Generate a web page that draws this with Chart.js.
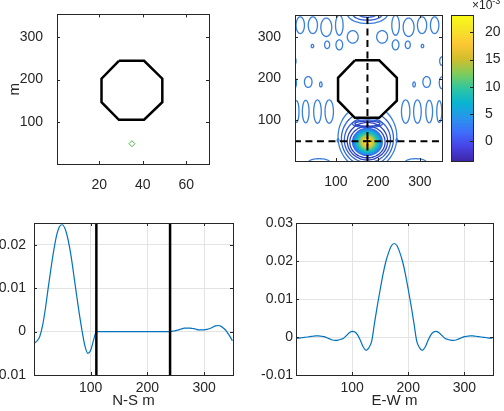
<!DOCTYPE html>
<html>
<head>
<meta charset="utf-8">
<script src="https://cdn.jsdelivr.net/npm/chart.js@4.4.1/dist/chart.umd.min.js"></script>
<style>
  html, body { margin: 0; padding: 0; background: #fff; overflow: hidden; }
  body { width: 504px; height: 411px; position: relative; font-family: "Liberation Sans", Arial, sans-serif; }
  canvas { position: absolute; }
  #expo { position: absolute; left: 472px; top: -4px; font-size: 12px; color: #262626; white-space: nowrap; }
  #expo sup { font-size: 9px; }
</style>
</head>
<body>
<canvas id="tl" width="252" height="200" style="left:0;top:0"></canvas>
<canvas id="tr" width="198" height="200" style="left:252px;top:0"></canvas>
<canvas id="cb" width="58" height="200" style="left:446px;top:0"></canvas>
<canvas id="bl" width="252" height="211" style="left:0;top:200px"></canvas>
<canvas id="br" width="252" height="211" style="left:252px;top:200px"></canvas>
<div id="expo">×10<sup>-3</sup></div>
<script>
// ---- data ----
// octagon outline (m) and source position
const octX = [145, 203, 245, 245, 203, 145, 105, 105, 145];
const octY = [244, 244, 202, 147, 106, 106, 147, 202, 244];
const cellSize = 5;           // m per grid column (top-left plot is in columns)
const srcX = 175, srcY = 50;  // m

// contour loops: centre, half widths (m), level class
const contCx  = [15, 45, 77, 108, 242, 273, 305, 335, 175, 175, 175,
                 44, 79, 108, 140, 210, 242, 271, 306, 0, 352,
                 0, 34, 64, 286, 316, 352,
                 6, 28, 56, 84, 266, 294, 322, 346,
                 175, 175, 175, 175, 175, 175, 175,
                 60, 290, 105, 245];
const contCy  = [328, 328, 323, 328, 328, 323, 328, 328, 356, 356, 356,
                 278, 281, 281, 300, 300, 281, 281, 278, 242, 242,
                 190, 192, 186, 186, 192, 190,
                 121, 121, 121, 121, 121, 121, 121, 121,
                 48, 50, 53, 56, 60, 92, 92,
                 0, 0, 52, 52];
const contRx  = [10, 11, 13, 9, 9, 13, 11, 10, 48, 36, 22,
                 3, 6, 8, 13, 13, 8, 6, 3, 5, 5,
                 6, 9, 3, 3, 9, 6,
                 6, 8, 9, 10, 10, 9, 8, 6,
                 42, 48, 55, 62, 70, 30, 36,
                 25, 25, 2, 2];
const contRy  = [20, 20, 22, 24, 24, 22, 20, 20, 24, 16, 9,
                 4, 9, 12, 15, 15, 12, 9, 4, 10, 10,
                 14, 13, 6, 6, 13, 14,
                 26, 27, 28, 28, 28, 28, 27, 26,
                 38, 45, 54, 65, 78, 6, 9,
                 8, 8, 4, 4];
const contLev = [0, 0, 0, 0, 0, 0, 0, 0, 0, 1, 1,
                 0, 0, 0, 0, 0, 0, 0, 0, 0, 0,
                 0, 0, 0, 0, 0, 0,
                 0, 0, 0, 0, 0, 0, 0, 0,
                 2, 2, 1, 1, 0, 2, 1,
                 0, 0, 0, 0];

// peak of the map (filled region)
const peakX = 175, peakY = 48, peakRx = 37, peakRy = 34;

// colour bar (x 10^-3)
const cbMin = -3.7, cbMax = 23.2;
const cbTicks = [0, 5, 10, 15, 20];

// tick labels
const tlXTicks = [20, 40, 60];
const tlYTicks = [100, 200, 300];
const trTicks = [100, 200, 300];
const profXTicks = [100, 200, 300];
const nsYTicks = [-0.01, 0, 0.01, 0.02];
const ewYTicks = [-0.01, 0, 0.01, 0.02, 0.03];

// profiles along the dashed lines
const profX = [0, 5, 10, 15, 20, 25, 30, 35, 40, 45, 50, 55, 60, 65, 70, 75, 80, 85, 90, 95,
               100, 105, 110, 115, 120, 125, 130, 135, 140, 145, 150, 155, 160, 165, 170, 175,
               180, 185, 190, 195, 200, 205, 210, 215, 220, 225, 230, 235, 240, 245, 250, 255,
               260, 265, 270, 275, 280, 285, 290, 295, 300, 305, 310, 315, 320, 325, 330, 335,
               340, 345, 350];
const nsVals = [-0.0027, -0.0022, -0.0012, 0.0013, 0.0052, 0.0100, 0.0146, 0.0188, 0.0222, 0.0242,
                0.0246, 0.0236, 0.0212, 0.0177, 0.0132, 0.0085, 0.0040, 0.0000, -0.0034, -0.0050,
                -0.0043, -0.0020, 0, 0, 0, 0, 0, 0, 0, 0, 0, 0, 0, 0, 0, 0,
                0, 0, 0, 0, 0, 0, 0, 0, 0, 0, 0, 0, 0, 0.0001, 0.0002, 0.0004,
                0.0006, 0.0008, 0.0008, 0.0008, 0.0007, 0.0006, 0.0004, 0.0004, 0.0004, 0.0005, 0.0007, 0.0010,
                0.0013, 0.0014, 0.0012, 0.0007, 0.0000, -0.0010, -0.0021];
const ewVals = [-0.0003, -0.0003, -0.0002, -0.0001, 0.0000, 0.0001, 0.0002, 0.0003, 0.0003, 0.0002,
                0.0001, -0.0002, -0.0005, -0.0008, -0.0009, -0.0008, -0.0006, -0.0003, 0.0004, 0.0011,
                0.0015, 0.0013, 0.0005, -0.0010, -0.0027, -0.0035, -0.0028, -0.0010, 0.0038, 0.0083,
                0.0125, 0.0165, 0.0198, 0.0222, 0.0240, 0.0246, 0.0240, 0.0222, 0.0198, 0.0165,
                0.0125, 0.0083, 0.0038, -0.0010, -0.0028, -0.0035, -0.0027, -0.0010, 0.0005, 0.0013,
                0.0015, 0.0011, 0.0004, -0.0003, -0.0006, -0.0008, -0.0009, -0.0008, -0.0005, -0.0002,
                0.0001, 0.0002, 0.0003, 0.0003, 0.0002, 0.0001, 0.0000, -0.0001, -0.0002, -0.0003, -0.0003];
const wallX = [110, 240];

// ---- styling ----
const parula = ['#3e26a8', '#4743e6', '#3e6ffb', '#2796eb', '#08b5d0', '#31c69f',
                '#80cc59', '#d3bd2c', '#fcc734', '#f5e427', '#f9fb14'];
const peakStops = [[0, '#f9fb14'], [0.15, '#f7dd2a'], [0.3, '#f2c232'], [0.45, '#9ccb52'],
                   [0.6, '#2fc3a4'], [0.75, '#0fb0d4'], [0.88, '#2a86ea'], [1, '#3560ea']];
const levColor = ['#3a7fdc', '#3262d6', '#2b44c2'];
const ink = '#262626';

Chart.defaults.font.family = '"Liberation Sans", Arial, sans-serif';
Chart.defaults.font.size = 14;
Chart.defaults.color = ink;
Chart.defaults.animation = false;
Chart.defaults.events = [];
Chart.defaults.plugins.legend.display = false;
Chart.defaults.plugins.tooltip.enabled = false;

// matlab-like box with inward ticks
const boxTicks = {
  id: 'boxTicks',
  afterDraw(chart, args, opts) {
    const {ctx, chartArea: a, scales} = chart;
    const len = 3, sides = opts.sides || 'lrtb';
    ctx.save();
    ctx.strokeStyle = ink;
    ctx.lineWidth = 1;
    ctx.beginPath();
    const xs = scales.x, ys = scales.y;
    if (xs && xs.options.display !== false) {
      xs.ticks.forEach(t => {
        const p = Math.round(xs.getPixelForValue(t.value)) + 0.5;
        if (sides.includes('b')) { ctx.moveTo(p, a.bottom); ctx.lineTo(p, a.bottom - len); }
        if (sides.includes('t')) { ctx.moveTo(p, a.top); ctx.lineTo(p, a.top + len); }
      });
    }
    ys.ticks.forEach(t => {
      const p = Math.round(ys.getPixelForValue(t.value)) + 0.5;
      if (sides.includes('l')) { ctx.moveTo(a.left, p); ctx.lineTo(a.left + len, p); }
      if (sides.includes('r')) { ctx.moveTo(a.right, p); ctx.lineTo(a.right - len, p); }
    });
    ctx.stroke();
    ctx.strokeRect(Math.round(a.left) + 0.5, Math.round(a.top) + 0.5,
                   Math.round(a.right - a.left), Math.round(a.bottom - a.top));
    ctx.restore();
  }
};
Chart.register(boxTicks);

function fixedTicks(list) {
  return scale => { scale.ticks = list.map(v => ({value: v})); };
}
function fixW(w) { return s => { s.width = w; }; }
function fixH(h) { return s => { s.height = h; }; }
function pts(xs, ys) { return xs.map((x, i) => ({x: x, y: ys[i]})); }

function ellipse(cx, cy, rx, ry) {
  const out = [];
  for (let k = 0; k <= 48; k++) {
    const a = k / 48 * 2 * Math.PI;
    out.push({x: cx + rx * Math.cos(a), y: cy + ry * Math.sin(a)});
  }
  return out;
}

// ---- top left: domain in grid columns ----
new Chart(document.getElementById('tl'), {
  type: 'scatter',
  data: {
    datasets: [
      { data: [{x: srcX / cellSize, y: srcY}], pointStyle: 'rectRot', pointRadius: 3,
        borderColor: '#45b845', borderWidth: 1, backgroundColor: 'rgba(0,0,0,0)' },
      { data: pts(octX.map(v => v / cellSize), octY), showLine: true, pointRadius: 0,
        borderColor: '#000', borderWidth: 2.5, tension: 0 }
    ]
  },
  options: {
    responsive: false,
    layout: { padding: { top: 12, right: 43, left: 0, bottom: 0 } },
    plugins: { boxTicks: { sides: 'lrtb' } },
    scales: {
      x: { type: 'linear', min: 0.5, max: 70.5, afterBuildTicks: fixedTicks(tlXTicks), afterFit: fixH(36),
           grid: { display: false }, border: { display: false }, ticks: { padding: 5 } },
      y: { type: 'linear', min: 2.5, max: 352.5, afterBuildTicks: fixedTicks(tlYTicks), afterFit: fixW(57),
           grid: { display: false }, border: { display: false }, ticks: { padding: 6 },
           title: { display: true, text: 'm', font: { size: 15 }, padding: { top: 6 } } }
    }
  }
});

// ---- top right: map ----
const peakPlugin = {
  id: 'peak',
  beforeDatasetsDraw(chart) {
    const {ctx, chartArea: a, scales: {x, y}} = chart;
    const cx = x.getPixelForValue(peakX), cy = y.getPixelForValue(peakY);
    const rx = Math.abs(x.getPixelForValue(peakX + peakRx) - cx);
    const ry = Math.abs(y.getPixelForValue(peakY + peakRy) - cy);
    ctx.save();
    ctx.beginPath();
    ctx.rect(a.left, a.top, a.right - a.left, a.bottom - a.top);
    ctx.clip();
    ctx.translate(cx, cy);
    ctx.scale(1, ry / rx);
    const g = ctx.createRadialGradient(0, 0, 0, 0, 0, rx);
    peakStops.forEach(s => g.addColorStop(s[0], s[1]));
    ctx.fillStyle = g;
    ctx.beginPath();
    ctx.arc(0, 0, rx, 0, Math.PI * 2);
    ctx.fill();
    ctx.restore();
  },
  beforeDatasetDraw(chart, args) {
    const ds = chart.data.datasets[args.index];
    if (!ds.whiteInside) return;
    const {ctx, scales: {x, y}} = chart;
    ctx.save();
    ctx.fillStyle = '#fff';
    ctx.beginPath();
    ds.data.forEach((p, i) => {
      const px = x.getPixelForValue(p.x), py = y.getPixelForValue(p.y);
      if (i === 0) ctx.moveTo(px, py); else ctx.lineTo(px, py);
    });
    ctx.closePath();
    ctx.fill();
    ctx.restore();
  }
};

const mapSets = contCx.map((cx, i) => ({
  data: ellipse(cx, contCy[i], contRx[i], contRy[i]),
  showLine: true, pointRadius: 0, borderWidth: 1.3, tension: 0.3,
  borderColor: levColor[contLev[i]], clip: 0, order: 10
}));
mapSets.push(
  { data: pts(octX, octY), showLine: true, pointRadius: 0, borderColor: '#000', borderWidth: 2.5,
    tension: 0, clip: 0, order: 3, whiteInside: true },
  { data: [{x: srcX, y: 0}, {x: srcX, y: 352.5}], showLine: true, pointRadius: 0, borderColor: '#000',
    borderWidth: 2, borderDash: [7, 4.5], clip: 0, order: 2 },
  { data: [{x: 0, y: srcY}, {x: 352.5, y: srcY}], showLine: true, pointRadius: 0, borderColor: '#000',
    borderWidth: 2, borderDash: [7, 4.5], clip: 0, order: 2 },
  { data: [{x: srcX, y: srcY}], pointStyle: 'cross', pointRadius: 4, borderColor: '#000',
    borderWidth: 1.5, order: 1 }
);

new Chart(document.getElementById('tr'), {
  type: 'scatter',
  data: { datasets: mapSets },
  plugins: [peakPlugin],
  options: {
    responsive: false,
    layout: { padding: { top: 15, right: 8, left: 0, bottom: 0 } },
    plugins: { boxTicks: { sides: 'lrtb' } },
    scales: {
      x: { type: 'linear', min: 2.5, max: 352.5, afterBuildTicks: fixedTicks(trTicks), afterFit: fixH(39),
           grid: { display: false }, border: { display: false }, ticks: { padding: 5 } },
      y: { type: 'linear', min: 2.5, max: 352.5, afterBuildTicks: fixedTicks(trTicks), afterFit: fixW(43),
           grid: { display: false }, border: { display: false }, ticks: { padding: 6 } }
    }
  }
});

// ---- colour bar ----
new Chart(document.getElementById('cb'), {
  type: 'bar',
  data: {
    labels: ['c'],
    datasets: [{
      data: [[cbMin, cbMax]], borderWidth: 0, barPercentage: 1, categoryPercentage: 1,
      backgroundColor: c => {
        const a = c.chart.chartArea;
        if (!a) return parula[0];
        const g = c.chart.ctx.createLinearGradient(0, a.bottom, 0, a.top);
        parula.forEach((col, i) => g.addColorStop(i / (parula.length - 1), col));
        return g;
      }
    }]
  },
  options: {
    responsive: false,
    layout: { padding: { top: 15, right: 0, left: 5, bottom: 39 } },
    plugins: { boxTicks: { sides: 'r' } },
    scales: {
      x: { display: false },
      y: { position: 'right', min: cbMin, max: cbMax, afterBuildTicks: fixedTicks(cbTicks), afterFit: fixW(31),
           grid: { display: false }, border: { display: false }, ticks: { padding: 4 } }
    }
  }
});

// ---- bottom profiles ----
function profile(id, vals, yTicks, yMin, yMax, title, yPad, yW, rightPad, extra) {
  const sets = [{ data: pts(profX, vals), showLine: true, pointRadius: 0, borderColor: '#0072bd',
                  borderWidth: 1.2, cubicInterpolationMode: 'monotone', clip: 0, order: 2 }];
  (extra || []).forEach(x => sets.push({
    data: [{x: x, y: yMin}, {x: x, y: yMax}], showLine: true, pointRadius: 0,
    borderColor: '#000', borderWidth: 2.5, clip: 0, order: 1
  }));
  return new Chart(document.getElementById(id), {
    type: 'scatter',
    data: { datasets: sets },
    options: {
      responsive: false,
      layout: { padding: { top: 23, right: rightPad, left: 0, bottom: 0 } },
      plugins: { boxTicks: { sides: 'lrtb' } },
      scales: {
        x: { type: 'linear', min: 0, max: 351, afterBuildTicks: fixedTicks(profXTicks), afterFit: fixH(36),
             grid: { color: '#e3e3e3', drawTicks: false }, border: { display: false }, ticks: { padding: 5 },
             title: { display: true, text: title, font: { size: 15 }, padding: { top: 0, bottom: 1 } } },
        y: { type: 'linear', min: yMin, max: yMax, afterBuildTicks: fixedTicks(yTicks), afterFit: fixW(yW),
             grid: { color: '#e3e3e3', drawTicks: false }, border: { display: false },
             ticks: { padding: yPad, callback: v => v === 0 ? '0' : v.toFixed(2) } }
      }
    }
  });
}
profile('bl', nsVals, nsYTicks, -0.01, 0.025, 'N-S m', 8, 34, 19, wallX);
profile('br', ewVals, ewYTicks, -0.01, 0.03, 'E-W m', 3, 44, 11, []);
</script>
</body>
</html>
